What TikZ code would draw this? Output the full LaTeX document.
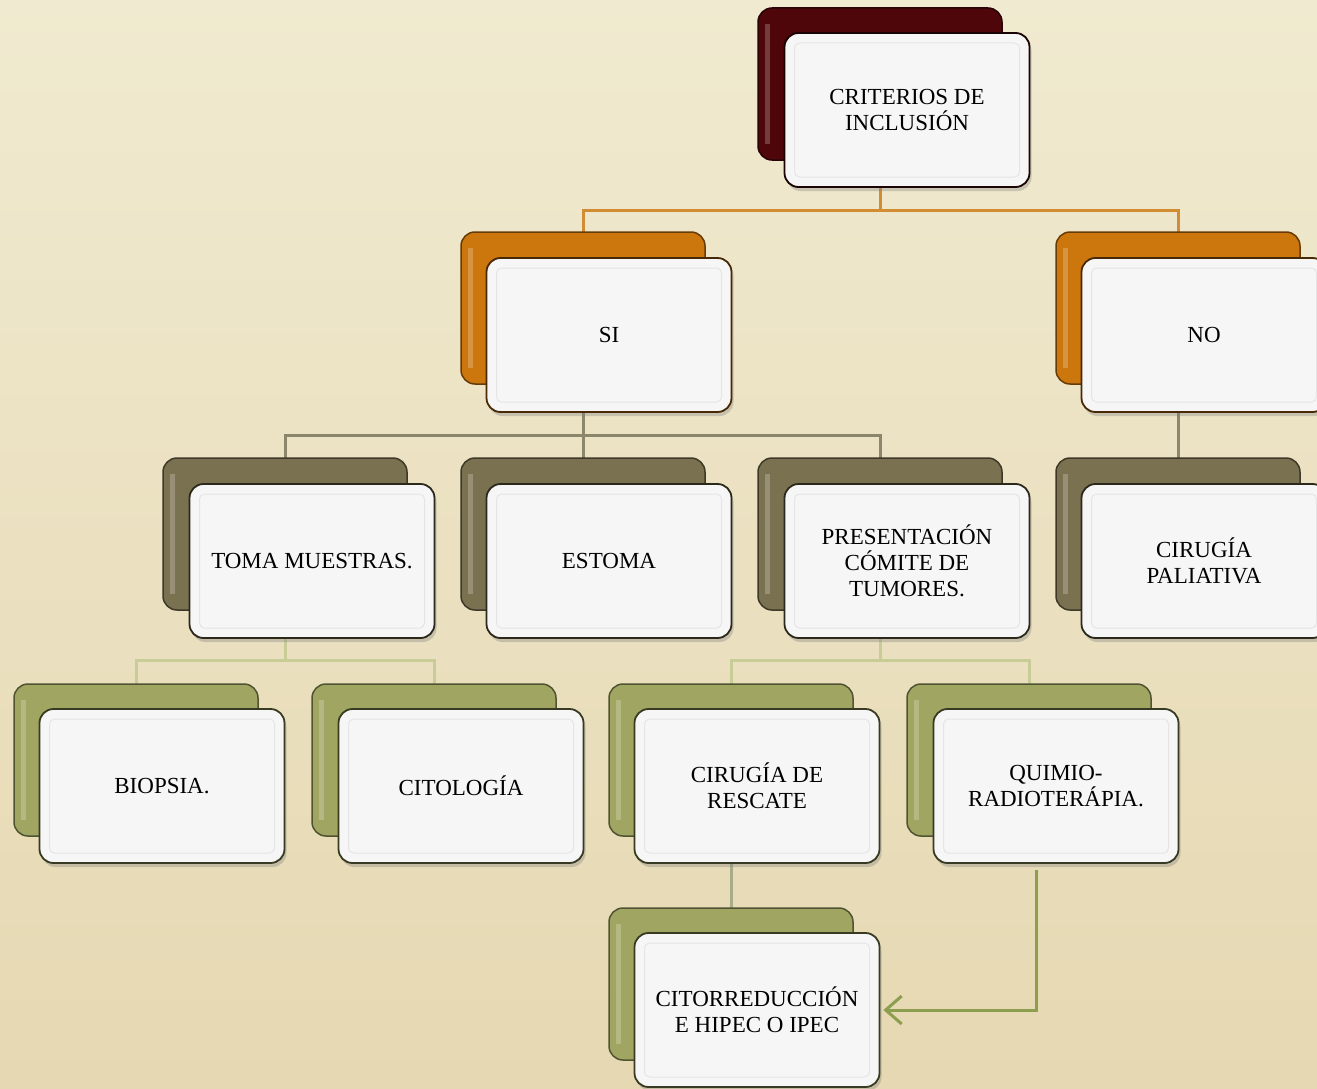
\documentclass[tikz,border=0pt]{standalone}
\usepackage{fontspec}
\setmainfont{Liberation Serif}
\usepackage{xcolor}
\usepackage{tikz}
\usetikzlibrary{positioning, calc, arrows.meta, shadows, backgrounds}

\definecolor{parchA}{RGB}{240,234,208}
\definecolor{parchB}{RGB}{230,216,178}
\definecolor{maroonbox}{RGB}{78,6,10}
\definecolor{amberbox}{RGB}{204,118,14}
\definecolor{khakibox}{RGB}{122,113,80}
\definecolor{mossbox}{RGB}{160,166,98}
\definecolor{lineA}{RGB}{210,140,50}
\definecolor{lineB}{RGB}{140,135,108}
\definecolor{lineC}{RGB}{200,204,150}
\definecolor{lineD}{RGB}{168,172,136}
\definecolor{arrowG}{RGB}{140,158,80}

\begin{document}
\begin{tikzpicture}[x=1pt, y=-1pt, every node/.style={font=\fontsize{23}{26}\selectfont},
  back/.style={draw=#1!50!black, fill=#1, line width=1.5pt, rounded corners=14pt, minimum width=244pt, minimum height=152pt, inner sep=0pt,
    path picture={\draw[white, opacity=.22, line width=5pt] ($(path picture bounding box.north west)+(9pt,-16pt)$) -- ($(path picture bounding box.south west)+(9pt,16pt)$);}},
  front/.style={draw=#1!35!black, fill=gray!7, line width=1.8pt, rounded corners=14pt, minimum width=245pt, minimum height=154pt, inner sep=0pt, align=center,
    drop shadow={opacity=.35, shadow xshift=2pt, shadow yshift=-4pt},
    path picture={\draw[gray!20, line width=1pt, rounded corners=5pt] ($(path picture bounding box.south west)+(10pt,10pt)$) rectangle ($(path picture bounding box.north east)+(-10pt,-10pt)$);}},
  link/.style={draw=#1, line width=3pt},
  arrowlink/.style={draw=arrowG, line width=3pt, -{Straight Barb[length=16pt, width=28pt]}, shorten >=3pt}]
  \useasboundingbox (0,0) rectangle (1317,1089);
  \begin{scope}[on background layer]
    \shade[top color=parchA, bottom color=parchB] (0,0) rectangle (1317,1089);
  \end{scope}

  % level 0
  \node[back=maroonbox] (crit-b) at (880,84) {};
  \node[front=maroonbox] (crit) at (907,110) {CRITERIOS DE\\INCLUSIÓN};

  % level 1
  \node[back=amberbox] (si-b) at (583,308) {};
  \node[front=amberbox] (si) at (609,335) {SI};
  \node[back=amberbox] (no-b) at (1178,308) {};
  \node[front=amberbox] (no) at (1204,335) {NO};

  % level 2
  \node[back=khakibox] (toma-b) at (285,534) {};
  \node[front=khakibox] (toma) at (312,561) {TOMA MUESTRAS.};
  \node[back=khakibox] (estoma-b) at (583,534) {};
  \node[front=khakibox] (estoma) at (609,561) {ESTOMA};
  \node[back=khakibox] (pres-b) at (880,534) {};
  \node[front=khakibox] (pres) at (907,561) {PRESENTACIÓN\\CÓMITE DE\\TUMORES.};
  \node[back=khakibox] (paliat-b) at (1178,534) {};
  \node[front=khakibox] (paliat) at (1204,561) {CIRUGÍA\\PALIATIVA};

  % level 3
  \node[back=mossbox] (biop-b) at (136,760) {};
  \node[front=mossbox] (biop) at (162,786) {BIOPSIA.};
  \node[back=mossbox] (cito-b) at (434,760) {};
  \node[front=mossbox] (cito) at (461,786) {CITOLOGÍA};
  \node[back=mossbox] (resc-b) at (731,760) {};
  \node[front=mossbox] (resc) at (757,786) {CIRUGÍA DE\\RESCATE};
  \node[back=mossbox] (quim-b) at (1029,760) {};
  \node[front=mossbox] (quim) at (1056,786) {QUIMIO-\\RADIOTERÁPIA.};

  % level 4
  \node[back=mossbox] (citor-b) at (731,984) {};
  \node[front=mossbox] (citor) at (757,1010) {CITORREDUCCIÓN\\E HIPEC O IPEC};

  \coordinate (bus1) at (880,210);
  \coordinate (bus2) at (583,435);
  \coordinate (bus3) at (285,660);
  \coordinate (bus4) at (880,660);
  \coordinate (qtail) at (1036,870);

  \begin{scope}[on background layer]
    \draw[link=lineA] (crit-b.center) -- (bus1);
    \draw[link=lineA] (si-b.center) |- (bus1);
    \draw[link=lineA] (no-b.center) |- (bus1);
    \draw[link=lineB] (si-b.center) -- (bus2);
    \draw[link=lineB] (toma-b.center) |- (bus2);
    \draw[link=lineB] (estoma-b.center) -- (bus2);
    \draw[link=lineB] (pres-b.center) |- (bus2);
    \draw[link=lineB] (no-b.center) -- (paliat-b.center);
    \draw[link=lineC] (toma-b.center) -- (bus3);
    \draw[link=lineC] (biop-b.center) |- (bus3);
    \draw[link=lineC] (cito-b.center) |- (bus3);
    \draw[link=lineC] (pres-b.center) -- (bus4);
    \draw[link=lineC] (resc-b.center) |- (bus4);
    \draw[link=lineC] (quim-b.center) |- (bus4);
    \draw[link=lineD] (resc-b.center) -- (citor-b.center);
  \end{scope}

  \draw[arrowlink] (qtail) |- (citor.east);
\end{tikzpicture}
\end{document}
